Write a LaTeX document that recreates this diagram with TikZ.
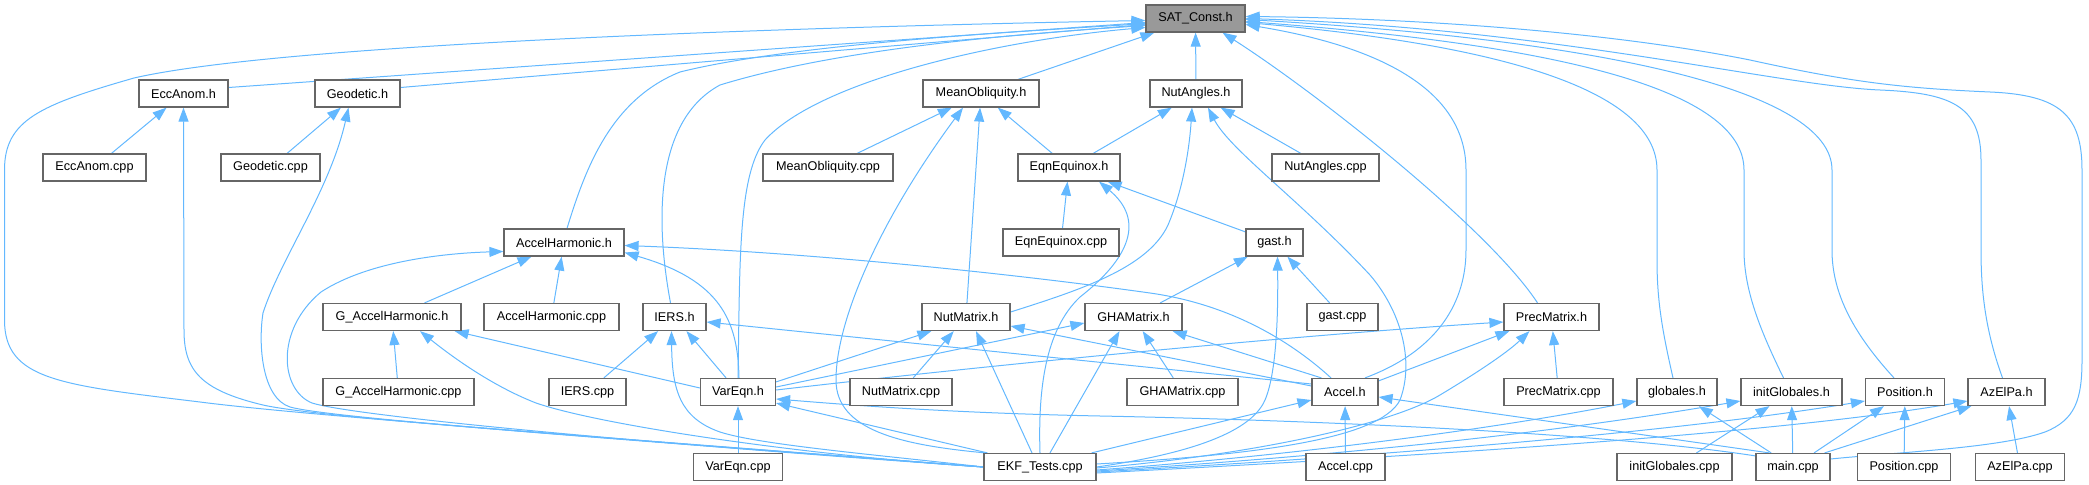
\documentclass[tikz,border=0pt]{standalone}
\usepackage{fontspec}
\setmainfont{Liberation Sans}
\usetikzlibrary{arrows.meta,calc}
\pgfdeclarelayer{background}
\pgfsetlayers{background,main}
\definecolor{edgecol}{HTML}{63B8FF}
\definecolor{boxline}{HTML}{666666}
\definecolor{boxfill}{HTML}{999999}
\tikzset{
  box/.style={draw=boxline, line width=0.9pt, fill=white, minimum height=20.25pt, inner sep=0pt, font=\fontsize{9.5}{11}\selectfont},
  w/.style={minimum width=#1*0.75pt},
  edge/.style={draw=edgecol, line width=0.75pt, -{Triangle[length=10.5pt,width=7.5pt]}}
}
\begin{document}
\begin{tikzpicture}[x=0.75pt,y=-0.75pt]
\useasboundingbox (0,0) rectangle (2089,485);
% nodes
\node[box,w=99,fill=boxfill] (SAT) at (1195.5,18.5) {SAT\_Const.h};
\node[box,w=89] (EccAnomH) at (183.5,93.5) {EccAnom.h};
\node[box,w=85] (GeodeticH) at (357.5,93.5) {Geodetic.h};
\node[box,w=116] (MeanOblH) at (981,93.5) {MeanObliquity.h};
\node[box,w=92] (NutAnglesH) at (1196,93.5) {NutAngles.h};
\node[box,w=103] (EccAnomCpp) at (94.5,167.5) {EccAnom.cpp};
\node[box,w=99] (GeodeticCpp) at (270.5,167.5) {Geodetic.cpp};
\node[box,w=130] (MeanOblCpp) at (828,167.5) {MeanObliquity.cpp};
\node[box,w=102] (EqnEqH) at (1069,167.5) {EqnEquinox.h};
\node[box,w=107] (NutAnglesCpp) at (1325.5,167.5) {NutAngles.cpp};
\node[box,w=120] (AccelHarmH) at (564,242.5) {AccelHarmonic.h};
\node[box,w=116] (EqnEqCpp) at (1061,242.5) {EqnEquinox.cpp};
\node[box,w=57] (gastH) at (1274.5,242.5) {gast.h};
\node[box,w=138] (GAHH) at (392,317) {G\_AccelHarmonic.h};
\node[box,w=135] (AHCpp) at (551.5,317) {AccelHarmonic.cpp};
\node[box,w=63] (IERSH) at (674.5,317) {IERS.h};
\node[box,w=88] (NutMatrixH) at (966,317) {NutMatrix.h};
\node[box,w=97] (GHAMatrixH) at (1133.5,317) {GHAMatrix.h};
\node[box,w=71] (gastCpp) at (1342.5,317) {gast.cpp};
\node[box,w=95] (PrecMatrixH) at (1551.5,317) {PrecMatrix.h};
\node[box,w=151] (GAHCpp) at (398.5,392) {G\_AccelHarmonic.cpp};
\node[box,w=77] (IERSCpp) at (587.5,392) {IERS.cpp};
\node[box,w=75] (VarEqnH) at (738,392) {VarEqn.h};
\node[box,w=102] (NutMatrixCpp) at (901,392) {NutMatrix.cpp};
\node[box,w=111] (GHAMatrixCpp) at (1182.5,392) {GHAMatrix.cpp};
\node[box,w=66] (AccelH) at (1345,392) {Accel.h};
\node[box,w=109] (PrecMatrixCpp) at (1558.5,392) {PrecMatrix.cpp};
\node[box,w=80] (globalesH) at (1677,392) {globales.h};
\node[box,w=101] (initGlobalesH) at (1791.5,392) {initGlobales.h};
\node[box,w=79] (PositionH) at (1905,392) {Position.h};
\node[box,w=77] (AzElPaH) at (2006.5,392) {AzElPa.h};
\node[box,w=89] (VarEqnCpp) at (738,467) {VarEqn.cpp};
\node[box,w=112] (EKF) at (1040,467) {EKF\_Tests.cpp};
\node[box,w=79] (AccelCpp) at (1345.5,467) {Accel.cpp};
\node[box,w=115] (initGlobalesCpp) at (1674.5,467) {initGlobales.cpp};
\node[box,w=74] (mainCpp) at (1793,467) {main.cpp};
\node[box,w=93] (PositionCpp) at (1904,467) {Position.cpp};
\node[box,w=89] (AzElPaCpp) at (2020,467) {AzElPa.cpp};
\begin{pgfonlayer}{background}
% simple straight edges
\draw[edge] (EccAnomCpp) -- (EccAnomH);
\draw[edge] (GeodeticCpp) -- (GeodeticH);
\draw[edge] (MeanOblCpp) -- (MeanOblH);
\draw[edge] (EqnEqH) -- (MeanOblH);
\draw[edge] (NutMatrixH) -- (MeanOblH);
\draw[edge] (EqnEqH) -- (NutAnglesH);
\draw[edge] (NutAnglesCpp) -- (NutAnglesH);
\draw[edge] (EqnEqCpp) -- (EqnEqH);
\draw[edge] (gastH) -- (EqnEqH);
\draw[edge] (GHAMatrixH) -- (gastH);
\draw[edge] (gastCpp) -- (gastH);
\draw[edge] (GAHH) -- (AccelHarmH);
\draw[edge] (AHCpp) -- (AccelHarmH);
\draw[edge] (GAHCpp) -- (GAHH);
\draw[edge] (IERSCpp) -- (IERSH);
\draw[edge] (VarEqnH) -- (IERSH);
\draw[edge] (NutMatrixCpp) -- (NutMatrixH);
\draw[edge] (GHAMatrixCpp) -- (GHAMatrixH);
\draw[edge] (PrecMatrixCpp) -- (PrecMatrixH);
\draw[edge] (VarEqnCpp) -- (VarEqnH);
\draw[edge] (AccelCpp) -- (AccelH);
\draw[edge] (mainCpp) -- (globalesH);
\draw[edge] (mainCpp) -- (initGlobalesH);
\draw[edge] (initGlobalesCpp) -- (initGlobalesH);
\draw[edge] (mainCpp) -- (PositionH);
\draw[edge] (PositionCpp) -- (PositionH);
\draw[edge] (AzElPaCpp) -- (AzElPaH);
\draw[edge] (NutAnglesH) -- (SAT);
% edges into SAT_Const.h from the left
\draw[edge] ($(EccAnomH.east)+(0,-6)$) -- ($(SAT.west)+(0,4)$);
\draw[edge] ($(GeodeticH.east)+(0,-6)$) -- ($(SAT.west)+(0,6)$);
\draw[edge] ($(MeanOblH.north)+(37,0)$) -- ($(SAT.south west)+(9,0)$);
\draw[edge] ($(PrecMatrixH.north)+(-14,0)$) .. controls (1490,230) and (1320,95) .. ($(SAT.south)+(27,0)$);
\draw[edge] ($(AccelHarmH.north)+(3,0)$) .. controls (585,170) and (610,100) .. (680,72) .. controls (800,42) and (1050,30) .. ($(SAT.west)+(0,5)$);
\draw[edge] ($(IERSH.north)+(-4,0)$) .. controls (655,220) and (655,120) .. (720,85) .. controls (850,45) and (1050,32) .. ($(SAT.west)+(0,7)$);
\draw[edge] (VarEqnH.north) .. controls (740,260) and (738,175) .. (765,140) .. controls (820,80) and (1000,40) .. ($(SAT.west)+(0,9)$);
\draw[edge] (EKF.west) .. controls (600,437) and (300,415) .. (200,402) .. controls (60,385) and (4.5,380) .. (4.5,320) -- (4.5,170) .. controls (4.5,120) and (40,105) .. (134,78) .. controls (300,40) and (900,25) .. ($(SAT.west)+(0,2)$);
% edges into SAT_Const.h from the right
\draw[edge] ($(AccelH.north)+(20,0)$) .. controls (1440,350) and (1466,300) .. (1466,250) -- (1466,170) .. controls (1466,100) and (1400,50) .. ($(SAT.east)+(0,6)$);
\draw[edge] ($(globalesH.north)+(-4,0)$) .. controls (1662,330) and (1657,300) .. (1657,260) -- (1657,170) .. controls (1657,90) and (1500,45) .. ($(SAT.east)+(0,4)$);
\draw[edge] ($(initGlobalesH.north)+(-8,0)$) .. controls (1760,330) and (1744,290) .. (1744,250) -- (1744,170) .. controls (1744,90) and (1560,45) .. ($(SAT.east)+(0,3)$);
\draw[edge] ($(PositionH.north)+(-11,0)$) .. controls (1850,330) and (1832,290) .. (1832,250) -- (1832,170) .. controls (1832,90) and (1600,40) .. ($(SAT.east)+(0,1)$);
\draw[edge] ($(AzElPaH.north)+(-4,0)$) .. controls (1985,330) and (1981,290) .. (1981,250) -- (1981,160) .. controls (1981,105) and (1950,93) .. (1880,90) .. controls (1780,86) and (1550,28) .. ($(SAT.east)+(0,0)$);
\draw[edge] ($(mainCpp.east)+(0,-8)$) .. controls (1900,452) and (2000,448) .. (2045,432) .. controls (2075,420) and (2082,400) .. (2082,360) -- (2082,170) .. controls (2082,115) and (2060,95) .. (1990,92) .. controls (1900,88) and (1850,82) .. (1750,60) .. controls (1600,30) and (1400,18) .. ($(SAT.east)+(0,-2)$);
% EKF_Tests.cpp to the left
\draw[edge] (EKF.west) .. controls (600,437) and (320,418) .. (263,405) .. controls (200,390) and (184,370) .. (184,330) -- (EccAnomH.south);
\draw[edge] (EKF.west) .. controls (600,438) and (330,418) .. (290,407) .. controls (262,398) and (258,345) .. (263,313) .. controls (280,260) and (330,190) .. ($(GeodeticH.south)+(-9,0)$);
\draw[edge] (EKF.west) .. controls (600,440) and (350,415) .. (312,403) .. controls (280,390) and (275,330) .. (321,292) .. controls (370,260) and (450,253) .. ($(AccelHarmH.west)+(0,9)$);
\draw[edge] (EKF.west) .. controls (800,455) and (600,425) .. (536,403) .. controls (490,385) and (450,355) .. ($(GAHH.south)+(28,0)$);
\draw[edge] (EKF.west) .. controls (880,455) and (760,445) .. (720,432) .. controls (680,418) and (672,390) .. ($(IERSH.south)+(-3,0)$);
\draw[edge] ($(EKF.north west)+(2,0)$) .. controls (900,445) and (836,430) .. (836,380) .. controls (836,320) and (880,220) .. ($(MeanOblH.south)+(-18,0)$);
\draw[edge] ($(EKF.north west)+(4,0)$) -- ($(VarEqnH.south east)+(0,-3)$);
\draw[edge] ($(EKF.north)+(-8,0)$) -- ($(NutMatrixH.south)+(10,0)$);
\draw[edge] (EKF.north) .. controls (1038,390) and (1045,330) .. (1080,297) .. controls (1130,258) and (1145,220) .. ($(EqnEqH.south)+(30,0)$);
\draw[edge] ($(EKF.north)+(10,0)$) -- ($(GHAMatrixH.south)+(-14,0)$);
\draw[edge] ($(EKF.north east)+(-5,0)$) -- ($(AccelH.west)+(0,8)$);
% EKF_Tests.cpp to the right
\draw[edge] (EKF.east) .. controls (1180,455) and (1250,435) .. (1265,400) .. controls (1278,370) and (1278,300) .. ($(gastH.south)+(3,0)$);
\draw[edge] ($(EKF.east)+(0,-3)$) .. controls (1250,455) and (1380,440) .. (1400,400) .. controls (1415,360) and (1400,310) .. (1370,275) .. controls (1300,200) and (1230,150) .. ($(NutAnglesH.south)+(12,0)$);
\draw[edge] ($(EKF.east)+(0,1)$) .. controls (1250,455) and (1390,425) .. (1440,395) .. controls (1485,368) and (1510,350) .. ($(PrecMatrixH.south)+(-22,0)$);
\draw[edge] ($(EKF.east)+(0,3)$) .. controls (1300,455) and (1500,428) .. ($(globalesH.west)+(0,9)$);
\draw[edge] ($(EKF.east)+(0,4)$) .. controls (1400,452) and (1600,425) .. ($(initGlobalesH.west)+(0,9)$);
\draw[edge] ($(EKF.east)+(0,5)$) .. controls (1450,452) and (1700,428) .. ($(PositionH.west)+(0,9)$);
\draw[edge] ($(EKF.east)+(0,6)$) .. controls (1500,452) and (1800,430) .. ($(AzElPaH.west)+(0,9)$);
% VarEqn.h
\draw[edge] ($(VarEqnH.west)+(0,-4)$) -- ($(GAHH.south east)+(-7,0)$);
\draw[edge] ($(VarEqnH.north)+(1,0)$) .. controls (738,320) and (720,280) .. ($(AccelHarmH.east)+(0,10)$);
\draw[edge] ($(VarEqnH.north east)+(0,4)$) -- ($(NutMatrixH.south west)+(10,0)$);
\draw[edge] ($(VarEqnH.east)+(0,-5)$) -- ($(GHAMatrixH.west)+(0,6)$);
\draw[edge] ($(VarEqnH.east)+(0,-2)$) .. controls (1000,364) and (1300,335) .. ($(PrecMatrixH.west)+(0,5)$);
% NutMatrix.h to NutAngles.h
\draw[edge] ($(NutMatrixH.east)+(0,-5)$) .. controls (1080,290) and (1148,268) .. (1168,225) .. controls (1185,185) and (1190,140) .. ($(NutAnglesH.south)+(-4,0)$);
% Accel.h
\draw[edge] ($(AccelH.west)+(0,-8)$) -- ($(IERSH.east)+(0,5)$);
\draw[edge] ($(AccelH.west)+(0,-6)$) -- ($(NutMatrixH.east)+(0,9)$);
\draw[edge] ($(AccelH.north west)+(10,0)$) -- ($(GHAMatrixH.south east)+(-10,0)$);
\draw[edge] ($(AccelH.north east)+(0,3)$) -- ($(PrecMatrixH.south west)+(6,0)$);
\draw[edge] ($(AccelH.north)+(-14,0)$) .. controls (1295,345) and (1235,305) .. (1150,293) .. controls (1000,272) and (800,252) .. ($(AccelHarmH.east)+(0,3)$);
% main.cpp
\draw[edge] ($(mainCpp.north west)+(0,3)$) .. controls (1600,432) and (1300,420) .. (1100,416) .. controls (950,413) and (850,405) .. ($(VarEqnH.east)+(0,7)$);
\draw[edge] ($(mainCpp.north west)+(14,0)$) -- ($(AccelH.east)+(0,5)$);
\draw[edge] ($(mainCpp.north east)+(-6,0)$) -- ($(AzElPaH.south west)+(4,0)$);
\end{pgfonlayer}
\end{tikzpicture}
\end{document}
